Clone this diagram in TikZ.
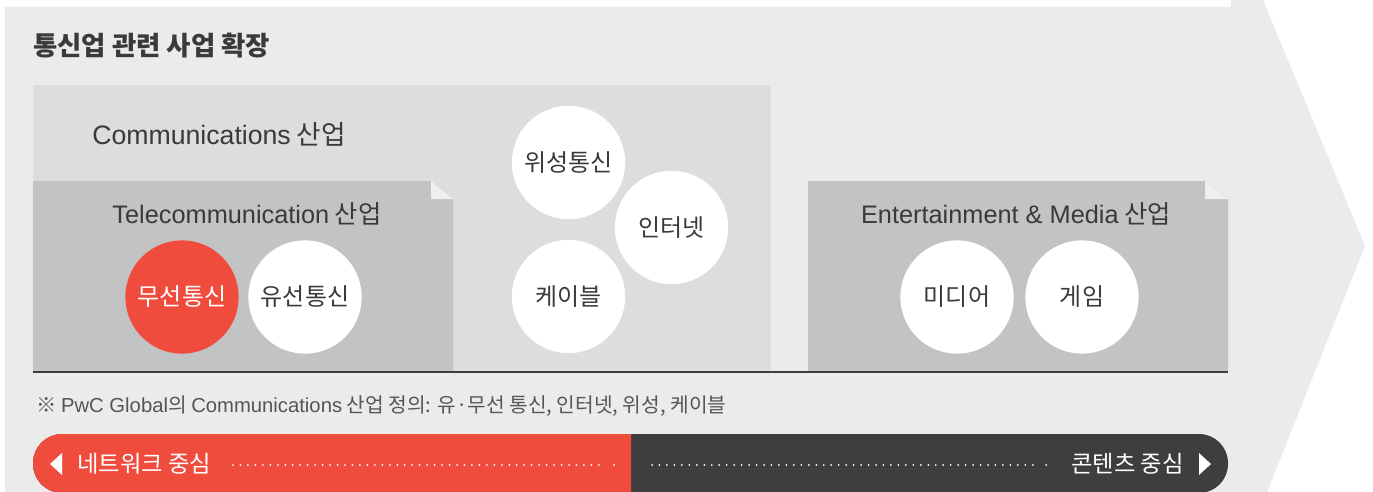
\documentclass[tikz,border=0pt]{standalone}
\usepackage{fontspec}
\setmainfont{Noto Sans CJK KR}
\newfontfamily\en{Liberation Sans}
\definecolor{bgc}{HTML}{EBEBEB}
\definecolor{commc}{HTML}{DCDDDF}
\definecolor{subc}{HTML}{C2C3C5}
\definecolor{foldc}{HTML}{EFEFEF}
\definecolor{redc}{HTML}{F04C3E}
\definecolor{darkc}{HTML}{3E3E40}
\definecolor{txtc}{HTML}{3A3A3A}
\definecolor{notec}{HTML}{555555}
\tikzset{
  circ/.style={circle, fill=white, minimum size=85pt, inner sep=0pt, text=txtc, font=\fontsize{18}{20}\selectfont},
  redcirc/.style={circ, fill=redc, text=white},
  boxlabel/.style={text=txtc, inner sep=0pt, font=\fontsize{19}{21}\selectfont},
  barlabel/.style={text=white, inner sep=0pt, font=\fontsize{17.5}{19}\selectfont},
  dotline/.style={white, line width=1.5pt, line cap=round, dash pattern=on 0pt off 5.6pt},
  tri/.style={fill=white}
}
\begin{document}
\begin{tikzpicture}[x=0.75pt,y=-0.75pt]
\useasboundingbox (0,0) rectangle (1373,492);
\fill[white] (0,0) rectangle (1373,492);
% background arrow
\fill[bgc] (5,7) -- (1231,7) -- (1231,0) -- (1263,0) -- (1365,246) -- (1267,492) -- (5,492) -- cycle;
% title
\node[anchor=west, inner sep=0pt, text=txtc, font=\bfseries\fontsize{19.8}{22}\selectfont] (title) at (33,46) {통신업 관련 사업 확장};
% communications box
\fill[commc] (33,85) rectangle (771,372);
\node[boxlabel, anchor=west, font=\fontsize{20}{22}\selectfont] (comm) at (92,134) {{\en Communications} 산업};
% telecom box
\fill[subc] (33,181) -- (431,181) -- (453,199) -- (453,372) -- (33,372) -- cycle;
\fill[foldc] (431,181) -- (431,199) -- (453,199) -- cycle;
\node[boxlabel] (tele) at (247,214) {{\en Telecommunication} 산업};
% E&M box
\fill[subc] (808,181) -- (1205,181) -- (1228,199) -- (1228,372) -- (808,372) -- cycle;
\fill[foldc] (1205,181) -- (1205,199) -- (1228,199) -- cycle;
\node[boxlabel] (em) at (1016,214) {{\en Entertainment \& Media} 산업};
% base line
\draw[darkc, line width=1.5pt] (33,372) -- (1228,372);
% circles
\node[redcirc] (wireless) at (182,297) {무선통신};
\node[circ] (wired) at (305,297) {유선통신};
\node[circ] (sat) at (568.5,162.5) {위성통신};
\node[circ] (inet) at (671.5,227.5) {인터넷};
\node[circ] (cable) at (568.5,296.5) {케이블};
\node[circ] (media) at (957,297) {미디어};
\node[circ] (game) at (1082,297) {게임};
% footnote
\node[anchor=west, inner sep=0pt, text=notec, font=\fontsize{15.2}{17}\selectfont] (note) at (36,406) {※ {\en PwC Global}의 {\en Communications} 산업 정의: 유·무선 통신, 인터넷, 위성, 케이블};
% bottom bar
\fill[darkc, rounded corners=21.75pt] (33,434) rectangle (1228,493);
\begin{scope}
\clip (0,400) rectangle (631,492);
\fill[redc, rounded corners=21.75pt] (33,434) rectangle (1228,493);
\end{scope}
\fill[tri] (50,464) -- (62,453) -- (62,475) -- cycle;
\fill[tri] (1211,464) -- (1199,453) -- (1199,475) -- cycle;
\node[barlabel, anchor=west] (net) at (77,464) {네트워크 중심};
\node[barlabel, anchor=east] (cont) at (1184,464) {콘텐츠 중심};
\coordinate (d1a) at (233,465);
\coordinate (d1b) at (605,465);
\coordinate (d1c) at (614,465);
\coordinate (d2a) at (652,465);
\coordinate (d2b) at (1035,465);
\coordinate (d2c) at (1046,465);
\draw[dotline] (d1a) -- (d1b);
\fill[white] (d1c) circle (0.75pt);
\draw[dotline] (d2a) -- (d2b);
\fill[white] (d2c) circle (0.75pt);
\end{tikzpicture}
\end{document}
